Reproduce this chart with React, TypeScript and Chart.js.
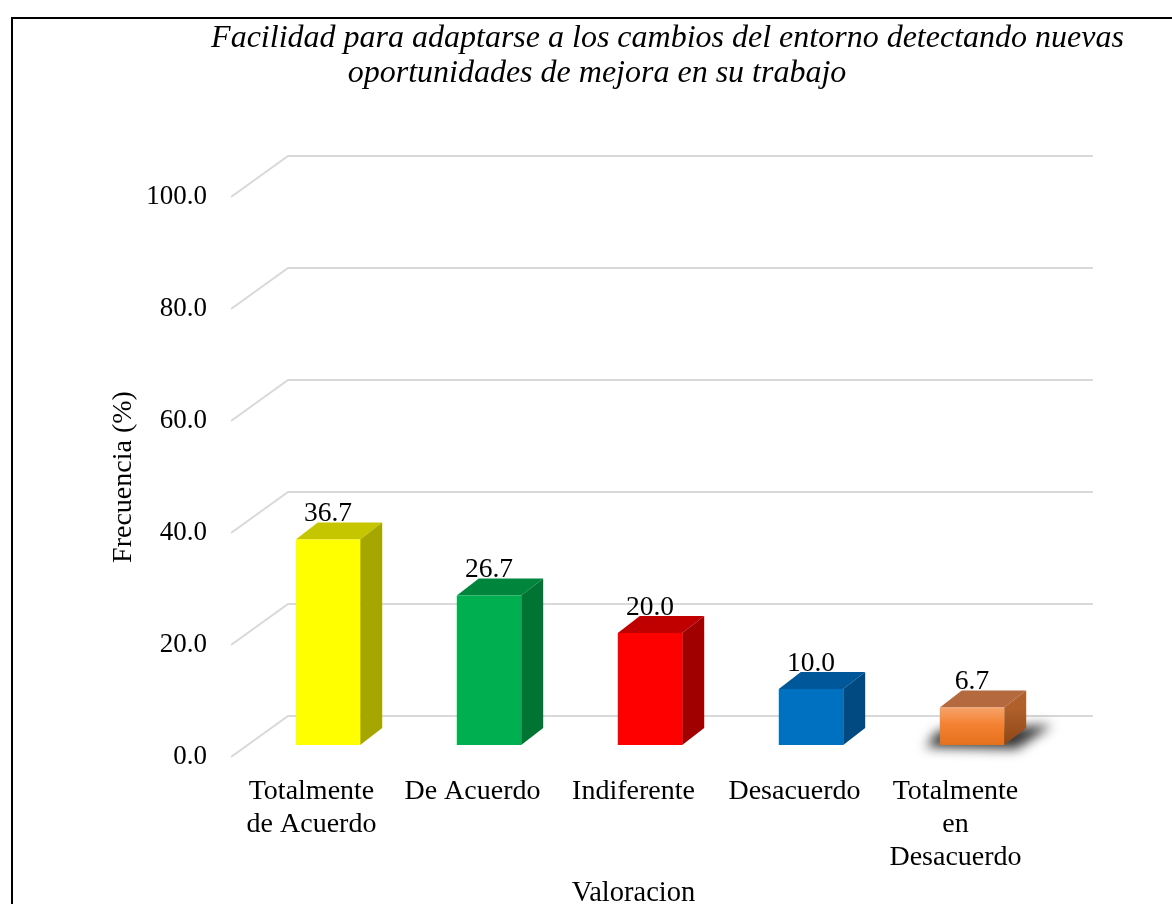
import React, { useEffect, useRef } from "react";
import { Chart, registerables } from "chart.js";

Chart.register(...registerables);

// ---- data ----
const categories: (string | string[])[] = [
  ["Totalmente", "de Acuerdo"],
  "De Acuerdo",
  "Indiferente",
  "Desacuerdo",
  ["Totalmente", "en", "Desacuerdo"],
];
const values = [36.7, 26.7, 20.0, 10.0, 6.7];
const yTicks = [0, 20, 40, 60, 80, 100];
const titleLines = [
  "Facilidad para adaptarse a los cambios del entorno detectando nuevas",
  "oportunidades de mejora en su trabajo",
];
const yAxisTitle = "Frecuencia (%)";
const xAxisTitle = "Valoracion";

// ---- styles ----
const frontColors = ["#FFFF00", "#00B050", "#FF0000", "#0070C0", "#F47F2E"];
const topColors = ["#C6C600", "#00863C", "#C00000", "#00579A", "#B4693F"];
const sideColors = ["#A6A600", "#007433", "#A00000", "#004A82", "#9E521E"];
const SERIF = "'Liberation Serif', 'Times New Roman', serif";
const TICK_SIZE = 27;
const LABEL_SIZE = 28;
const TITLE_SIZE = 32;

// 3D geometry (pixels)
const BAR_SHIFT_X = 16.5; // bar front plane relative to floor front edge
const BAR_SHIFT_Y = -12;
const BAR_DEPTH_X = 22;
const BAR_DEPTH_Y = -17;
const WALL_X = 57;
const WALL_Y = -41;

const threeD = {
  id: "threeD",
  beforeDraw(chart: any) {
    const { ctx } = chart;
    ctx.save();
    ctx.fillStyle = "#ffffff";
    ctx.fillRect(0, 0, chart.width, chart.height);
    // frame
    ctx.strokeStyle = "#000000";
    ctx.lineWidth = 2;
    ctx.strokeRect(12, 18, chart.width + 100, chart.height + 100);
    // title
    ctx.fillStyle = "#000000";
    ctx.font = `italic ${TITLE_SIZE}px ${SERIF}`;
    ctx.textAlign = "center";
    ctx.textBaseline = "alphabetic";
    ctx.fillText(titleLines[0], 667.5, 47);
    ctx.fillText(titleLines[1], 597, 82);
    ctx.restore();
  },
  beforeDatasetsDraw(chart: any) {
    const { ctx, chartArea } = chart;
    const yScale = chart.scales.y;
    // back wall gridlines with perspective diagonals
    ctx.save();
    ctx.strokeStyle = "#D9D9D9";
    ctx.lineWidth = 2;
    yTicks.forEach((v) => {
      const py = yScale.getPixelForValue(v);
      ctx.beginPath();
      ctx.moveTo(chartArea.left, py);
      ctx.lineTo(chartArea.left + WALL_X, py + WALL_Y);
      ctx.lineTo(chartArea.right + WALL_X, py + WALL_Y);
      ctx.stroke();
    });
    ctx.restore();

    // shift into the bar plane; front faces are drawn by Chart.js inside this transform
    ctx.save();
    ctx.translate(BAR_SHIFT_X, BAR_SHIFT_Y);
    const meta = chart.getDatasetMeta(0);
    meta.data.forEach((el: any, i: number) => {
      const { x, y, base, width } = el.getProps(["x", "y", "base", "width"], true);
      const l = x - width / 2;
      const r = x + width / 2;
      if (i === frontColors.length - 1) {
        // soft shadow under last bar
        ctx.save();
        ctx.shadowColor = "rgba(0,0,0,0.8)";
        ctx.shadowBlur = 12;
        ctx.shadowOffsetX = 10000;
        ctx.fillStyle = "#000";
        ctx.beginPath();
        ctx.moveTo(l - 14 - 10000, base + 2);
        ctx.lineTo(l - 2 - 10000, base - 14);
        ctx.lineTo(r + BAR_DEPTH_X + 26 - 10000, base - 20);
        ctx.lineTo(r + 12 - 10000, base + 4);
        ctx.closePath();
        ctx.fill();
        ctx.restore();
      }
      // top face
      ctx.fillStyle = topColors[i];
      ctx.beginPath();
      ctx.moveTo(l, y);
      ctx.lineTo(l + BAR_DEPTH_X, y + BAR_DEPTH_Y);
      ctx.lineTo(r + BAR_DEPTH_X, y + BAR_DEPTH_Y);
      ctx.lineTo(r, y);
      ctx.closePath();
      ctx.fill();
      // side face
      if (i === frontColors.length - 1) {
        const g = ctx.createLinearGradient(0, y, 0, base);
        g.addColorStop(0, "#B0612B");
        g.addColorStop(1, "#8E4616");
        ctx.fillStyle = g;
      } else {
        ctx.fillStyle = sideColors[i];
      }
      ctx.beginPath();
      ctx.moveTo(r, y);
      ctx.lineTo(r + BAR_DEPTH_X, y + BAR_DEPTH_Y);
      ctx.lineTo(r + BAR_DEPTH_X, base + BAR_DEPTH_Y);
      ctx.lineTo(r, base);
      ctx.closePath();
      ctx.fill();
    });
  },
  afterDatasetsDraw(chart: any) {
    const { ctx } = chart;
    ctx.restore();
    const meta = chart.getDatasetMeta(0);
    ctx.save();
    ctx.fillStyle = "#000000";
    ctx.font = `${TICK_SIZE + 0.5}px ${SERIF}`;
    ctx.textAlign = "center";
    ctx.textBaseline = "alphabetic";
    meta.data.forEach((el: any, i: number) => {
      const { x, y } = el.getProps(["x", "y"], true);
      ctx.fillText(values[i].toFixed(1), x + BAR_SHIFT_X, y + BAR_SHIFT_Y + BAR_DEPTH_Y - 1);
    });
    ctx.restore();
  },
};

export default function App() {
  const ref = useRef<HTMLCanvasElement | null>(null);

  useEffect(() => {
    if (!ref.current) return;
    const lastIdx = values.length - 1;
    const chart = new Chart(ref.current, {
      type: "bar",
      data: {
        labels: categories,
        datasets: [
          {
            data: values,
            backgroundColor: (c: any) => {
              const i = c.dataIndex;
              if (i === lastIdx && c.chart.chartArea) {
                const ys = c.chart.scales.y;
                const g = c.chart.ctx.createLinearGradient(0, ys.getPixelForValue(values[i]), 0, ys.getPixelForValue(0));
                g.addColorStop(0, "#F6A36A");
                g.addColorStop(0.45, "#F48232");
                g.addColorStop(1, "#E5701C");
                return g;
              }
              return frontColors[i];
            },
            borderWidth: 0,
            barPercentage: 0.4,
            categoryPercentage: 1,
          },
        ],
      },
      options: {
        responsive: false,
        animation: false,
        devicePixelRatio: 1,
        layout: { padding: { top: 197, right: 136, left: 0, bottom: 0 } },
        plugins: {
          legend: { display: false },
          title: { display: false },
          tooltip: { enabled: false },
        },
        scales: {
          x: {
            grid: { display: false, drawTicks: false },
            border: { display: false },
            ticks: {
              color: "#000000",
              padding: 18,
              maxRotation: 0,
              autoSkip: false,
              font: { family: SERIF, size: LABEL_SIZE, lineHeight: 1.18 },
            },
            title: {
              display: true,
              text: xAxisTitle,
              color: "#000000",
              font: { family: SERIF, size: LABEL_SIZE + 0.5, lineHeight: 1.2 },
              padding: { top: 0, bottom: -7 },
            },
            afterFit: (s: any) => {
              s.height = 147;
            },
          },
          y: {
            min: yTicks[0],
            max: yTicks[yTicks.length - 1],
            grid: { display: false, drawTicks: false },
            border: { display: false },
            ticks: {
              stepSize: yTicks[1] - yTicks[0],
              color: "#000000",
              padding: 24,
              font: { family: SERIF, size: TICK_SIZE },
              callback: (v: any) => Number(v).toFixed(1),
            },
            title: {
              display: true,
              text: yAxisTitle,
              color: "#000000",
              font: { family: SERIF, size: LABEL_SIZE, lineHeight: 1.2 },
              padding: { top: 107, bottom: 0 },
            },
            afterFit: (s: any) => {
              s.width = 231;
            },
          },
        },
      },
      plugins: [threeD],
    });
    return () => chart.destroy();
  }, []);

  return (
    <div style={{ position: "fixed", left: 0, top: 0, width: 1172, height: 904, overflow: "hidden", background: "#fff" }}>
      <canvas ref={ref} width={1172} height={904} style={{ display: "block", width: 1172, height: 904 }} />
    </div>
  );
}
